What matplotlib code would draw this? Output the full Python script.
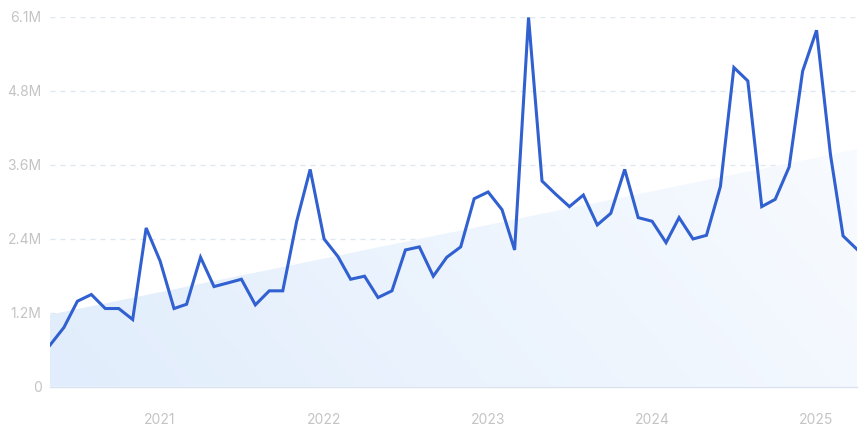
import numpy as np
import pandas as pd
import matplotlib
matplotlib.use("Agg")
import matplotlib.pyplot as plt
import matplotlib.dates as mdates
from matplotlib.colors import LinearSegmentedColormap

# monthly values in millions, May 2020 .. Apr 2025
months = pd.date_range("2020-05-01", periods=60, freq="MS")
values = [
    0.68, 0.97, 1.40, 1.51, 1.28, 1.28, 1.10, 2.60,
    2.06, 1.28, 1.35, 2.12, 1.64, 1.70, 1.76, 1.34, 1.57, 1.57, 2.71, 3.56,
    2.42, 2.13, 1.76, 1.81, 1.46, 1.57, 2.24, 2.29, 1.81, 2.12, 2.29, 3.08,
    3.19, 2.90, 2.24, 6.05, 3.37, 3.15, 2.95, 3.14, 2.65, 2.84, 3.56, 2.77,
    2.71, 2.36, 2.77, 2.42, 2.48, 3.28, 5.23, 5.01, 2.95, 3.07, 3.60, 5.17,
    5.84, 3.80, 2.47, 2.25,
]
trend_start, trend_end = 1.18, 3.89

y_max = 6.06
y_ticks = np.linspace(0, y_max, 6)
y_labels = ["0", "1.2M", "2.4M", "3.6M", "4.8M", "6.1M"]
year_ticks = pd.to_datetime(["2021-01-01", "2022-01-01", "2023-01-01", "2024-01-01", "2025-01-01"])
year_labels = ["2021", "2022", "2023", "2024", "2025"]

plt.rcParams["font.family"] = ["Inter", "DejaVu Sans"]

fig = plt.figure(figsize=(8.67, 4.32), dpi=100)
ax = fig.add_axes([50 / 867, 0.105, 807 / 867, 0.856])

x = mdates.date2num(months)
trend = np.linspace(trend_start, trend_end, len(x))

# trend area with soft gradient
fill = ax.fill_between(x, 0, trend, color="none", lw=0)
cmap = LinearSegmentedColormap.from_list("g", ["#e1edfc", "#f8fbff"])
gx, gy = np.meshgrid(np.linspace(0, 1, 200), np.linspace(0, 1, 100))
grad = 0.8 * gx + 0.2 * (1 - gy)
img = ax.imshow(grad, cmap=cmap, aspect="auto", origin="upper",
                extent=[x[0], x[-1], 0, trend_end], zorder=1)
img.set_clip_path(fill.get_paths()[0], transform=ax.transData)

ax.plot(x, values, color="#3160d0", lw=2.2, zorder=3, solid_joinstyle="miter")

ax.set_xlim(x[0], x[-1])
ax.set_ylim(0, y_max)
ax.set_yticks(y_ticks)
ax.set_yticklabels(y_labels)
ax.set_xticks(mdates.date2num(year_ticks))
ax.set_xticklabels(year_labels)

for t in y_ticks[1:]:
    ax.axhline(t, color="#dfe7ee", lw=0.9, ls=(0, (4, 4)), zorder=0)

for s in ["top", "right", "left"]:
    ax.spines[s].set_visible(False)
ax.spines["bottom"].set_color("#d9e3ef")
ax.spines["bottom"].set_linewidth(1)
ax.tick_params(axis="both", length=0, labelcolor="#c4c4c4", labelsize=10)
ax.tick_params(axis="x", pad=19)
ax.tick_params(axis="y", pad=6)

fig.savefig("out.png", dpi=100)
